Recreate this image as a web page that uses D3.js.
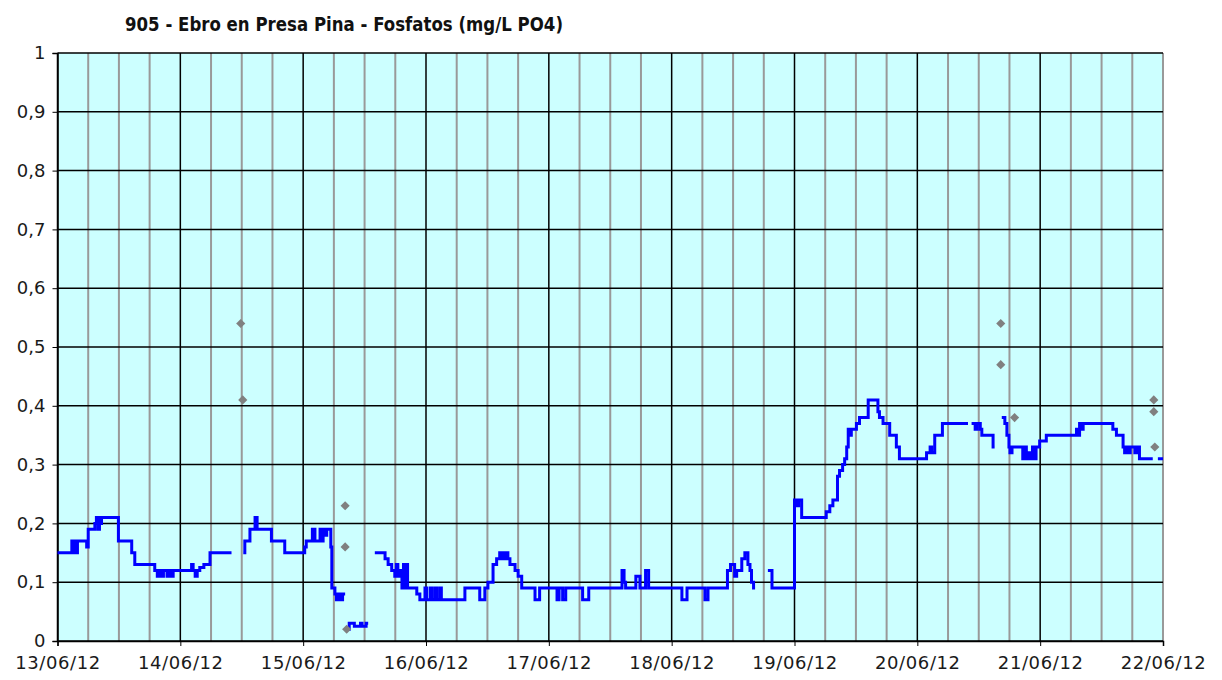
<!DOCTYPE html>
<html>
<head>
<meta charset="utf-8">
<script src="https://cdn.jsdelivr.net/npm/d3@7"></script>
<style>
  body { margin: 0; background: #fff; }
  svg { display: block; }
  .tick text { font-family: "DejaVu Sans", Verdana, sans-serif; font-size: 18px; fill: #1a1a1a; }
  .x-axis .tick text { letter-spacing: 0.6px; }
</style>
</head>
<body>
<svg width="1222" height="680"></svg>
<script>
// fosfatos, Ebro en Presa Pina, 13/06/12 - 22/06/12

var TITLE = '905 - Ebro en Presa Pina - Fosfatos (mg/L PO4)';

var START_DATE = new Date(2012, 5, 13);
var END_DATE   = new Date(2012, 5, 22);

var Y_TICKS = [0, 0.1, 0.2, 0.3, 0.4, 0.5, 0.6, 0.7, 0.8, 0.9, 1];

// hours since 13/06 00:00 and the value (null = no data)
var lineHours = [
  0, 2.8, 3.0, 3.3, 3.6, 3.9, 5.7, 6.0, 7.3, 7.6, 7.9, 8.2, 8.5, 8.6, 11.9, 14.5, 15.1, 19.0, 19.5, 19.9,
  20.3, 20.7, 21.4, 21.8, 22.2, 22.6, 26.2, 26.5, 26.9, 27.3, 27.8, 28.6, 29.8, 34.0, 34.0,
  36.3, 36.6, 37.6, 38.6, 39.0, 41.8, 44.4, 48.3, 48.6, 49.8, 50.3, 51.3, 51.6, 51.9, 52.2, 52.6, 53.4,
  53.6, 54.2, 54.5, 54.9, 55.3, 55.7, 56.2, 56.2,
  56.7, 57.0, 58.0, 59.2, 59.5, 60.3, 60.7, 60.7,
  62.0, 64.0, 64.6, 65.3, 65.9, 66.2, 66.5, 66.9, 67.3, 67.6, 67.9, 68.1, 68.4, 70.2, 70.8, 71.8, 72.1,
  72.8, 73.1, 73.7, 74.1, 74.7, 75.0, 79.6, 82.5, 83.5, 84.1, 85.1, 85.8, 86.4, 86.7, 87.1, 87.4, 87.7,
  88.0, 88.4, 89.4, 90.0, 90.7, 93.3, 94.2, 97.6, 98.0, 98.7, 99.3, 102.6, 103.8, 110.3, 110.7, 111.0,
  113.0, 113.8, 114.9, 115.5, 122.0, 123.0, 126.5, 127.1, 130.9, 131.5, 132.3, 132.7, 133.7, 134.3,
  134.9, 135.3, 135.6, 136.0, 136.3, 136.3,
  138.8, 139.6, 144.0, 144.4, 144.8, 145.4, 150.2, 150.9, 151.5, 152.4, 152.8, 153.4, 153.8, 154.2,
  154.5, 154.8, 155.1, 156.1, 156.7, 158.4, 160.3, 160.6, 161.3, 162.6, 163.9, 164.5, 169.8, 170.5,
  170.8, 171.4, 172.9, 177.9, 177.9,
  178.6, 179.3, 179.7, 180.3, 180.6, 182.8, 183.1, 183.1,
  184.5, 185.1, 185.5, 185.9, 186.1, 186.5, 188.6, 189.0, 189.3, 189.7, 190.1, 190.5, 190.8, 191.2,
  191.9, 193.2, 199.1, 199.4, 199.7, 200.0, 200.4, 206.2, 206.9, 208.2, 208.5, 209.0, 209.3, 209.6,
  210.5, 210.9, 211.4, 214.0, 214.0,
  215.0, 216.0
];
var lineValues = [
  0.15, 0.17, 0.15, 0.17, 0.15, 0.17, 0.16, 0.19, 0.20, 0.21, 0.19, 0.21, 0.20, 0.21, 0.17, 0.15, 0.13, 0.12, 0.11, 0.12,
  0.11, 0.12, 0.11, 0.12, 0.11, 0.12, 0.13, 0.12, 0.11, 0.12, 0.125, 0.13, 0.15, 0.15, null,
  0.15, 0.17, 0.19, 0.21, 0.19, 0.17, 0.15, 0.16, 0.17, 0.19, 0.17, 0.19, 0.17, 0.19, 0.18, 0.19, 0.16,
  0.09, 0.08, 0.07, 0.08, 0.07, 0.08, 0.08, null,
  0.02, 0.03, 0.025, 0.03, 0.025, 0.03, 0.03, null,
  0.15, 0.14, 0.13, 0.12, 0.11, 0.13, 0.11, 0.12, 0.09, 0.13, 0.09, 0.13, 0.09, 0.08, 0.07, 0.09, 0.07,
  0.09, 0.07, 0.09, 0.07, 0.09, 0.07, 0.09, 0.07, 0.09, 0.10, 0.13, 0.14, 0.15, 0.14, 0.15, 0.14, 0.15,
  0.14, 0.13, 0.12, 0.11, 0.09, 0.07, 0.09, 0.07, 0.09, 0.07, 0.09, 0.07, 0.09, 0.12, 0.10, 0.09,
  0.11, 0.09, 0.12, 0.09, 0.07, 0.09, 0.07, 0.09, 0.12, 0.13, 0.11, 0.12, 0.14, 0.15,
  0.13, 0.12, 0.10, 0.09, 0.09, null,
  0.12, 0.09, 0.24, 0.23, 0.24, 0.21, 0.22, 0.23, 0.24, 0.28, 0.29, 0.30, 0.31, 0.33,
  0.36, 0.35, 0.36, 0.37, 0.38, 0.41, 0.39, 0.38, 0.37, 0.35, 0.33, 0.31, 0.32, 0.33,
  0.32, 0.35, 0.37, 0.37, null,
  0.37, 0.36, 0.37, 0.36, 0.35, 0.33, 0.33, null,
  0.38, 0.37, 0.35, 0.33, 0.32, 0.33, 0.31, 0.33, 0.31, 0.32, 0.31, 0.33, 0.31, 0.33,
  0.34, 0.35, 0.36, 0.35, 0.37, 0.36, 0.37, 0.36, 0.35, 0.33, 0.32, 0.33, 0.32, 0.33,
  0.32, 0.33, 0.31, 0.31, null,
  0.31, 0.31
];

// isolated readings (grey diamonds)
var pointHours  = [35.8, 36.2, 56.2, 56.2, 56.5, 184.3, 184.3, 187.0, 214.2, 214.2, 214.4];
var pointValues = [0.54, 0.41, 0.23, 0.16, 0.02, 0.54, 0.47, 0.38, 0.41, 0.39, 0.33];

var LEFT = 57.5, RIGHT = 1163, TOP = 53, BOTTOM = 641;

var hourToDate = function (h) {
  return new Date(START_DATE.getTime() + h * 3600 * 1000);
};

var main = function () {
  var svg = d3.select('svg');

  var x = d3.scaleTime().domain([START_DATE, END_DATE]).range([LEFT, RIGHT]);
  var y = d3.scaleLinear().domain([0, 1]).range([BOTTOM, TOP]);

  // plot background
  svg.append('rect')
    .attr('x', LEFT).attr('y', TOP)
    .attr('width', RIGHT - LEFT).attr('height', BOTTOM - TOP)
    .attr('fill', '#ccffff');

  // 6 hour grid (grey)
  var quarterDays = d3.timeHour.every(6).range(START_DATE, END_DATE)
    .filter(function (d) { return d.getHours() !== 0; });
  svg.append('g').selectAll('line')
    .data(quarterDays.concat([END_DATE]))
    .enter().append('line')
    .attr('x1', function (d) { return x(d); })
    .attr('x2', function (d) { return x(d); })
    .attr('y1', TOP).attr('y2', BOTTOM)
    .attr('stroke', '#999')
    .attr('stroke-width', 2);

  // daily grid (black)
  svg.append('g').selectAll('line')
    .data(d3.timeDay.range(START_DATE, END_DATE))
    .enter().append('line')
    .attr('x1', function (d) { return x(d); })
    .attr('x2', function (d) { return x(d); })
    .attr('y1', TOP).attr('y2', BOTTOM)
    .attr('stroke', '#000')
    .attr('stroke-width', 1.5);

  // horizontal grid
  svg.append('g').selectAll('line')
    .data(Y_TICKS)
    .enter().append('line')
    .attr('x1', LEFT).attr('x2', RIGHT)
    .attr('y1', function (d) { return y(d); })
    .attr('y2', function (d) { return y(d); })
    .attr('stroke', '#000')
    .attr('stroke-width', 1.5);

  // axes
  var yAxis = d3.axisLeft(y)
    .tickValues(Y_TICKS)
    .tickSize(5)
    .tickPadding(7)
    .tickFormat(function (d) { return String(Math.round(d * 10) / 10).replace('.', ','); });
  svg.append('g')
    .attr('transform', 'translate(' + LEFT + ',0)')
    .call(yAxis)
    .call(function (g) { g.select('.domain').attr('stroke-width', 1.5); });

  var xAxis = d3.axisBottom(x)
    .ticks(d3.timeDay.every(1))
    .tickSize(5)
    .tickPadding(10)
    .tickFormat(d3.timeFormat('%d/%m/%y'));
  svg.append('g')
    .attr('class', 'x-axis')
    .attr('transform', 'translate(0,' + BOTTOM + ')')
    .call(xAxis)
    .call(function (g) { g.select('.domain').attr('stroke-width', 1.5); });

  // series line
  var rows = lineHours.map(function (h, i) { return { t: hourToDate(h), v: lineValues[i] }; });
  var line = d3.line()
    .defined(function (d) { return d.v !== null; })
    .x(function (d) { return x(d.t); })
    .y(function (d) { return y(d.v); })
    .curve(d3.curveStepAfter);
  svg.append('path')
    .datum(rows)
    .attr('d', line)
    .attr('fill', 'none')
    .attr('stroke', '#0000ff')
    .attr('stroke-width', 3);

  // isolated points
  var pts = pointHours.map(function (h, i) { return { t: hourToDate(h), v: pointValues[i] }; });
  svg.append('g').selectAll('path')
    .data(pts)
    .enter().append('path')
    .attr('d', d3.symbol(d3.symbolSquare, 42))
    .attr('transform', function (d) { return 'translate(' + x(d.t) + ',' + y(d.v) + ') rotate(45)'; })
    .attr('fill', '#808080');

  // title
  svg.append('text')
    .attr('x', 125).attr('y', 31)
    .attr('font-family', '"DejaVu Sans", Verdana, sans-serif')
    .attr('font-weight', 'bold')
    .attr('font-size', 20)
    .attr('textLength', 438)
    .attr('lengthAdjust', 'spacingAndGlyphs')
    .attr('fill', '#111')
    .text(TITLE);
};

main();
</script>
</body>
</html>
